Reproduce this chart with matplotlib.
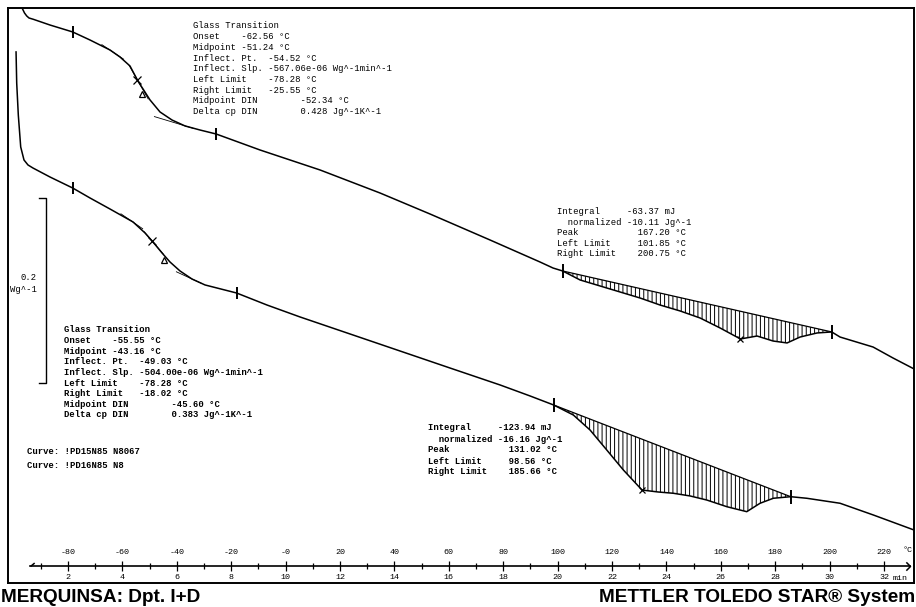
import numpy as np
import matplotlib.pyplot as plt
from matplotlib import font_manager
from matplotlib.path import Path

# DSC run, heating 10 K/min from -100 °C  ->  T = -100 + 10*t
rate = 10.0
t_start = -100.0

# upper curve (!PD15N85 N8067): temperature in °C, heat flow in W/g (offset arbitrary)
temp1 = np.array([-96.65, -95.99, -95.18, -94.34, -92.76, -86.62, -78.28, -71.91, -64.56, -60.88,
                  -57.21, -54.15, -52.43, -49.85, -46.18, -41.76, -36.99, -31.47, -25.55, -9.41,
                  12.65, 34.71, 53.09, 75.15, 93.53, 98.31, 101.85, 108.24, 115.59, 122.94,
                  130.29, 137.65, 145.0, 152.35, 159.71, 167.2, 173.31, 179.19, 184.34, 189.12,
                  195.37, 200.75, 203.82, 215.96, 223.31, 231.03])
hf1 = np.array([0.6202, 0.6162, 0.6130, 0.6108, 0.6094, 0.6032, 0.5957, 0.5870, 0.5762, 0.5686,
                0.5589, 0.5419, 0.5341, 0.5222, 0.5092, 0.5005, 0.4941, 0.4897, 0.4854, 0.4681,
                0.4465, 0.4216, 0.3989, 0.3708, 0.3470, 0.3405, 0.3373, 0.3276, 0.3211, 0.3146,
                0.3081, 0.3005, 0.2941, 0.2865, 0.2757, 0.2638, 0.2670, 0.2616, 0.2595, 0.2659,
                0.2703, 0.2714, 0.2659, 0.2551, 0.2432, 0.2314])

# lower curve (!PD16N85 N8)
temp2 = np.array([-99.10, -98.86, -98.27, -97.39, -96.18, -94.71, -92.87, -86.62, -78.28, -71.90,
                  -64.56, -56.10, -51.69, -48.75, -45.44, -42.50, -38.82, -34.41, -29.63, -18.02,
                  -6.84, 5.29, 23.68, 42.06, 60.44, 78.82, 89.85, 98.56, 105.77, 111.91,
                  118.05, 124.15, 131.02, 136.90, 142.54, 148.68, 154.82, 162.17, 169.52, 174.41,
                  179.30, 185.66, 191.58, 203.82, 216.07, 224.0, 231.0])
hf2 = np.array([0.5741, 0.5405, 0.5059, 0.4714, 0.4573, 0.4519, 0.4486, 0.4389, 0.4270, 0.4162,
                0.4043, 0.3903, 0.3784, 0.3686, 0.3568, 0.3470, 0.3373, 0.3286, 0.3222, 0.3135,
                0.3005, 0.2876, 0.2692, 0.2508, 0.2324, 0.2141, 0.2022, 0.1924, 0.1816, 0.1654,
                0.1438, 0.1222, 0.1005, 0.0984, 0.0970, 0.0941, 0.0897, 0.0825, 0.0771, 0.0862,
                0.0916, 0.0933, 0.0916, 0.0862, 0.0735, 0.0649, 0.0573])

# evaluation results (onset, midpoint, inflection, left limit, right limit)
gt1 = dict(onset=-62.56, mid=-51.24, infl=-54.52, left=-78.28, right=-25.55)
gt2 = dict(onset=-55.55, mid=-43.16, infl=-49.03, left=-78.28, right=-18.02)
peak1 = dict(left=101.85, right=200.75, peak=167.20)
peak2 = dict(left=98.56, right=185.66, peak=131.02)

gt1_lines = ["Glass Transition",
             "Onset    -62.56 °C",
             "Midpoint -51.24 °C",
             "Inflect. Pt.  -54.52 °C",
             "Inflect. Slp. -567.06e-06 Wg^-1min^-1",
             "Left Limit    -78.28 °C",
             "Right Limit   -25.55 °C",
             "Midpoint DIN        -52.34 °C",
             "Delta cp DIN        0.428 Jg^-1K^-1"]
gt2_lines = ["Glass Transition",
             "Onset    -55.55 °C",
             "Midpoint -43.16 °C",
             "Inflect. Pt.  -49.03 °C",
             "Inflect. Slp. -504.00e-06 Wg^-1min^-1",
             "Left Limit    -78.28 °C",
             "Right Limit   -18.02 °C",
             "Midpoint DIN        -45.60 °C",
             "Delta cp DIN        0.383 Jg^-1K^-1"]
peak1_lines = ["Integral     -63.37 mJ",
               "  normalized -10.11 Jg^-1",
               "Peak           167.20 °C",
               "Left Limit     101.85 °C",
               "Right Limit    200.75 °C"]
peak2_lines = ["Integral     -123.94 mJ",
               "  normalized -16.16 Jg^-1",
               "Peak           131.02 °C",
               "Left Limit     98.56 °C",
               "Right Limit    185.66 °C"]
curve_names = ["Curve: !PD15N85 N8067", "Curve: !PD16N85 N8"]

time_major = np.arange(2, 33, 2)
time_minor = np.arange(1, 33, 2)
time_labels = [str(v) for v in time_major]
temp_ticks = np.arange(-80, 221, 20)
temp_labels = ['-0' if v == 0 else str(v) for v in temp_ticks]

scale_value = 0.2      # W/g
scale_top = 0.416
scale_temp = -88.1

plt.rcParams['font.family'] = ['Liberation Mono', 'DejaVu Sans Mono']
plt.rcParams['hatch.linewidth'] = 0.7

W, H = 916, 607
fig = plt.figure(figsize=(W / 100, H / 100), dpi=100)


def fx(p):
    return p / W


def fy(p):
    return 1 - p / H


ax = fig.add_axes([fx(8), fy(583), (914 - 8) / W, (583 - 8) / H])
ax.set_xlim(-102.06, 231.0)
ax.set_ylim(0.0, 0.6216)
ax.set_xticks([])
ax.set_yticks([])
for s in ax.spines.values():
    s.set_linewidth(1.4)

ax.plot(temp1, hf1, color='k', lw=1.1)
ax.plot(temp2, hf2, color='k', lw=1.1)


def slope(tc, hc, t, d=1.5):
    return (np.interp(t + d, tc, hc) - np.interp(t - d, tc, hc)) / (2 * d)


def tangent(tc, hc, t0, lo, hi):
    m = slope(tc, hc, t0)
    y0 = np.interp(t0, tc, hc)
    xs = np.array([lo, hi])
    ax.plot(xs, y0 + m * (xs - t0), color='k', lw=0.6)


# glass transitions
for tc, hc, g, tr in ((temp1, hf1, gt1, -36.0), (temp2, hf2, gt2, -33.0)):
    tangent(tc, hc, g['onset'] - 1, g['onset'] - 5, g['onset'] + 3)
    tangent(tc, hc, tr, g['mid'] + 3, tr + 2)
    tangent(tc, hc, g['infl'], g['infl'] - 3, g['infl'] + 4)
    lims = np.array([g['left'], g['right']])
    ax.plot(lims, np.interp(lims, tc, hc), ls='none', marker='|', ms=8, mew=1.4, color='k')
    ax.plot(g['infl'], np.interp(g['infl'], tc, hc), marker='x', ms=6, mew=0.9, color='k')
    ax.plot(g['mid'] - 1.5, np.interp(g['mid'], tc, hc), marker='^', ms=5, mew=0.9,
            mfc='none', mec='k')

# melting peaks with linear baseline
for tc, hc, p in ((temp1, hf1, peak1), (temp2, hf2, peak2)):
    lims = np.array([p['left'], p['right']])
    ylims = np.interp(lims, tc, hc)
    m = (tc >= p['left']) & (tc <= p['right'])
    base = np.interp(tc[m], lims, ylims)
    ax.fill_between(tc[m], hc[m], base, facecolor='none', edgecolor='k', hatch='||||', lw=0)
    ax.plot(lims, ylims, color='k', lw=0.9)
    ax.plot(lims, ylims, ls='none', marker='|', ms=10, mew=1.4, color='k')
    ax.plot(p['peak'], np.interp(p['peak'], tc, hc), marker='x', ms=5, mew=0.9, color='k')

# scale bar
ax.plot([scale_temp - 2.6, scale_temp, scale_temp, scale_temp - 2.6],
        [scale_top, scale_top, scale_top - scale_value, scale_top - scale_value],
        color='k', lw=1.0)
mid = scale_top - scale_value / 2
ax.text(scale_temp - 3.3, mid + 0.014, '0.2', ha='right', va='center', fontsize=6.4)
ax.text(scale_temp - 3.3, mid + 0.001, 'Wg^-1', ha='right', va='center', fontsize=6.4)


def block(lines, x, y, dy, weight='normal'):
    for i, s in enumerate(lines):
        fig.text(fx(x), fy(y + i * dy), s, fontsize=6.4, weight=weight,
                 ha='left', va='center')


block(gt1_lines, 193, 26, 10.7)
block(peak1_lines, 557, 212, 10.4)
block(gt2_lines, 64, 330, 10.6, 'bold')
block(peak2_lines, 428, 428, 11.0, 'bold')
block(curve_names, 27, 451, 15.0, 'bold')

# time / temperature scale
T_lo, T_hi = ax.get_xlim()


def px_T(p):
    return T_lo + (p - 8) / 906 * (T_hi - T_lo)


ax_t = fig.add_axes([fx(30), fy(566), (910 - 30) / W, 1e-4])
ax_t.set_xlim((px_T(30) - t_start) / rate, (px_T(910) - t_start) / rate)
ax_t.set_ylim(0, 1)
ax_t.patch.set_visible(False)
for k in ('top', 'left', 'right'):
    ax_t.spines[k].set_visible(False)
ax_t.spines['bottom'].set_linewidth(1.2)
ax_t.set_yticks([])
ax_t.set_xticks(time_major, labels=time_labels)
ax_t.set_xticks(time_minor, minor=True)
ax_t.tick_params(which='major', direction='inout', length=7, width=0.9, labelsize=6, pad=2)
ax_t.tick_params(which='minor', direction='inout', length=4.5, width=0.9)

sec = ax_t.secondary_xaxis('top', functions=(lambda t: t_start + rate * t,
                                             lambda T: (T - t_start) / rate))
sec.set_xticks(temp_ticks, labels=temp_labels)
sec.tick_params(length=0, labelsize=6, pad=7)
sec.spines['top'].set_visible(False)

chev_r = Path([(-1, 1), (0, 0), (-1, -1)], [Path.MOVETO, Path.LINETO, Path.LINETO])
chev_l = Path([(1.2, 1), (0, 0)], [Path.MOVETO, Path.LINETO])
x0, x1 = ax_t.get_xlim()
ax_t.plot([x1], [0], marker=chev_r, ms=6, mfc='none', mec='k', mew=1.1, clip_on=False)
ax_t.plot([x0], [0], marker=chev_l, ms=6, mfc='none', mec='k', mew=1.1, clip_on=False)
fig.text(fx(893), fy(579), 'min', fontsize=6, ha='left', va='center')
fig.text(fx(903), fy(550), '°C', fontsize=6, ha='left', va='center')

# footer
names = {f.name for f in font_manager.fontManager.ttflist}
foot_font = 'Liberation Sans Narrow' if 'Liberation Sans Narrow' in names else 'Liberation Sans'
fl = fig.text(fx(1), fy(598), 'MERQUINSA: Dpt. I+D', family=foot_font, weight='bold',
              fontsize=14, ha='left', va='center')
fr = fig.text(fx(915), fy(598), 'METTLER TOLEDO STAR® System', family=foot_font,
              weight='bold', fontsize=14, ha='right', va='center')
fig.canvas.draw()
for t, target in ((fl, 200), (fr, 317)):
    w = t.get_window_extent().width
    t.set_fontsize(t.get_fontsize() * target / w)

fig.savefig('out.png', dpi=100)
